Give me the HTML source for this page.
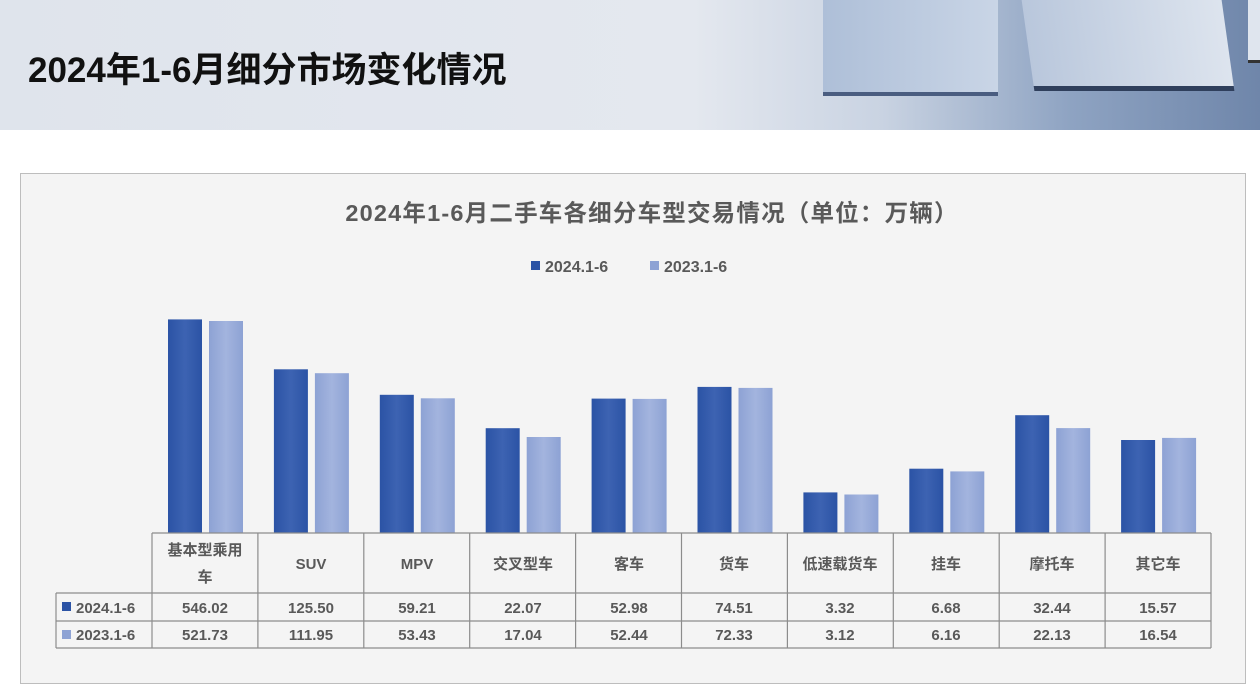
<!DOCTYPE html>
<html><head><meta charset="utf-8"><style>
body{margin:0;width:1260px;height:691px;overflow:hidden;background:#fff;font-family:"Liberation Sans","Noto Sans CJK SC",sans-serif;}
.hdr{position:absolute;left:0;top:0;width:1260px;height:130px;background:linear-gradient(90deg,#dfe4ec 0%,#e4e8ef 55%,#c9d3e2 70%,#8ea3c2 85%,#6f86aa 100%);}
.hdr h1{position:absolute;left:28px;top:42px;margin:0;font-size:35px;font-weight:bold;color:#111;letter-spacing:0px;}
.box{position:absolute;left:20px;top:173px;width:1224px;height:509px;background:#f4f4f4;border:1px solid #bdbdbd;}
svg text{font-family:"Liberation Sans","Noto Sans CJK SC",sans-serif;}
</style></head><body>
<div class="hdr">
<div style="position:absolute;left:823px;top:0;width:175px;height:92px;background:linear-gradient(90deg,#aebfd8,#c9d5e6);border-bottom:4px solid #4a5d80;"></div>
<div style="position:absolute;left:1028px;top:0;width:200px;height:86px;background:linear-gradient(90deg,#b9c7dc,#dde4ee);border-bottom:5px solid #2f3f5c;transform:skewX(8deg);"></div>
<div style="position:absolute;left:1248px;top:0;width:12px;height:60px;background:#dfe5ee;border-bottom:3px solid #333;"></div>
<h1>2024年1-6月细分市场变化情况</h1>
</div>
<div class="box"></div>
<svg width="1260" height="691" style="position:absolute;left:0;top:0">
<defs>
<linearGradient id="a" x1="0" x2="1"><stop offset="0" stop-color="#2b53a5"/><stop offset="0.5" stop-color="#3d63b2"/><stop offset="1" stop-color="#2b53a5"/></linearGradient>
<linearGradient id="b" x1="0" x2="1"><stop offset="0" stop-color="#8da2d4"/><stop offset="0.5" stop-color="#a3b4de"/><stop offset="1" stop-color="#8da2d4"/></linearGradient>
</defs>
<text x="652" y="221" text-anchor="middle" font-size="23.5" font-weight="bold" fill="#595959" letter-spacing="1.2">2024年1-6月二手车各细分车型交易情况（单位：万辆）</text>
<rect x="531" y="261" width="9" height="9" fill="#2b53a5"/><text x="545" y="272" font-size="16" font-weight="bold" fill="#595959">2024.1-6</text>
<rect x="650" y="261" width="9" height="9" fill="#8da2d4"/><text x="664" y="272" font-size="16" font-weight="bold" fill="#595959">2023.1-6</text>
<g fill="url(#a)">
<rect x="168" y="319.4" width="34" height="213.6"/>
<rect x="273.9" y="369.3" width="34" height="163.7"/>
<rect x="379.8" y="394.8" width="34" height="138.2"/>
<rect x="485.7" y="428.2" width="34" height="104.8"/>
<rect x="591.6" y="398.6" width="34" height="134.4"/>
<rect x="697.5" y="386.9" width="34" height="146.1"/>
<rect x="803.4" y="492.4" width="34" height="40.6"/>
<rect x="909.3" y="468.7" width="34" height="64.3"/>
<rect x="1015.2" y="415.2" width="34" height="117.8"/>
<rect x="1121.1" y="440" width="34" height="93"/>
</g>
<g fill="url(#b)">
<rect x="209" y="321" width="34" height="212"/>
<rect x="314.9" y="373.2" width="34" height="159.8"/>
<rect x="420.8" y="398.3" width="34" height="134.7"/>
<rect x="526.7" y="437" width="34" height="96"/>
<rect x="632.6" y="398.9" width="34" height="134.1"/>
<rect x="738.5" y="387.9" width="34" height="145.1"/>
<rect x="844.4" y="494.5" width="34" height="38.5"/>
<rect x="950.3" y="471.4" width="34" height="61.6"/>
<rect x="1056.2" y="428.1" width="34" height="104.9"/>
<rect x="1162.1" y="437.9" width="34" height="95.1"/>
</g>
<g stroke="#8c8c8c" stroke-width="1.2" fill="none">
<line x1="152" y1="533" x2="1211" y2="533"/>
<line x1="56" y1="593" x2="1211" y2="593"/>
<line x1="56" y1="621" x2="1211" y2="621"/>
<line x1="56" y1="648" x2="1211" y2="648"/>
<line x1="56" y1="593" x2="56" y2="648"/>
<line x1="152" y1="533" x2="152" y2="648"/><line x1="257.9" y1="533" x2="257.9" y2="648"/><line x1="363.8" y1="533" x2="363.8" y2="648"/><line x1="469.7" y1="533" x2="469.7" y2="648"/><line x1="575.6" y1="533" x2="575.6" y2="648"/><line x1="681.5" y1="533" x2="681.5" y2="648"/><line x1="787.4" y1="533" x2="787.4" y2="648"/><line x1="893.3" y1="533" x2="893.3" y2="648"/><line x1="999.2" y1="533" x2="999.2" y2="648"/><line x1="1105.1" y1="533" x2="1105.1" y2="648"/><line x1="1211" y1="533" x2="1211" y2="648"/>
</g>
<g font-size="15" fill="#595959" text-anchor="middle" font-weight="bold">
<text x="205" y="555">基本型乘用</text><text x="205" y="582">车</text>
<text x="311" y="569">SUV</text><text x="417" y="569">MPV</text><text x="523" y="569">交叉型车</text><text x="629" y="569">客车</text><text x="734" y="569">货车</text><text x="840" y="569">低速载货车</text><text x="946" y="569">挂车</text><text x="1052" y="569">摩托车</text><text x="1158" y="569">其它车</text>
<text x="205" y="613">546.02</text><text x="311" y="613">125.50</text><text x="417" y="613">59.21</text><text x="523" y="613">22.07</text><text x="629" y="613">52.98</text><text x="734" y="613">74.51</text><text x="840" y="613">3.32</text><text x="946" y="613">6.68</text><text x="1052" y="613">32.44</text><text x="1158" y="613">15.57</text>
<text x="205" y="640">521.73</text><text x="311" y="640">111.95</text><text x="417" y="640">53.43</text><text x="523" y="640">17.04</text><text x="629" y="640">52.44</text><text x="734" y="640">72.33</text><text x="840" y="640">3.12</text><text x="946" y="640">6.16</text><text x="1052" y="640">22.13</text><text x="1158" y="640">16.54</text>
</g>
<rect x="62" y="602" width="9" height="9" fill="#2b53a5"/><text x="76" y="613" font-size="15" font-weight="bold" fill="#595959">2024.1-6</text>
<rect x="62" y="630" width="9" height="9" fill="#8da2d4"/><text x="76" y="640" font-size="15" font-weight="bold" fill="#595959">2023.1-6</text>
</svg>
</body></html>
